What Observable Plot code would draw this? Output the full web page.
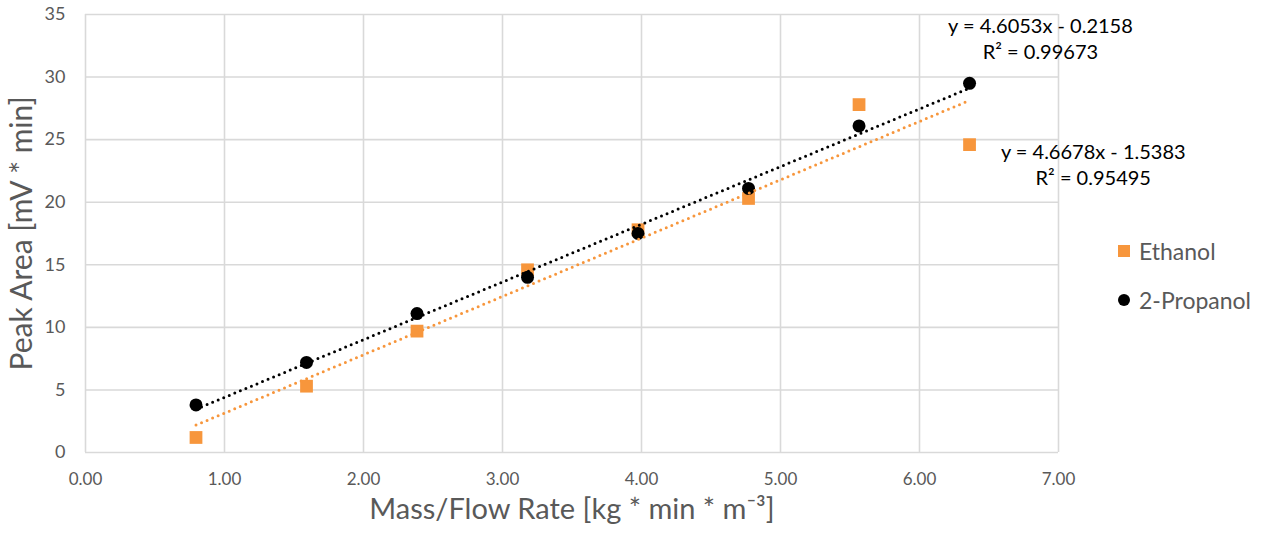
<!DOCTYPE html>
<html>
<head>
<meta charset="utf-8">
<script src="https://cdn.jsdelivr.net/npm/d3@7"></script>
<script src="https://cdn.jsdelivr.net/npm/@observablehq/plot@0.6"></script>
<style>
  html, body { margin: 0; padding: 0; background: #fff; }
  #wrap { position: relative; width: 1274px; height: 537px; font-family: Lato, "Open Sans", sans-serif; }
  .leg { position: absolute; left: 1116px; font-size: 23px; color: #595959; display: flex; align-items: center; }
  .leg svg { margin-right: 7px; }
</style>
</head>
<body>
<div id="wrap"></div>
<script>
// ---- data ----
const massFlow = [0.795, 1.59, 2.385, 3.18, 3.975, 4.77, 5.565, 6.36];
const ethanol = [1.2, 5.3, 9.7, 14.6, 17.8, 20.3, 27.8, 24.6];
const propanol = [3.8, 7.2, 11.1, 14.0, 17.5, 21.1, 26.1, 29.5];
const seriesNames = ["Ethanol", "2-Propanol"];
const seriesColors = ["#F7963C", "#000000"];
const xTicks = [0, 1, 2, 3, 4, 5, 6, 7];
const yTicks = [0, 5, 10, 15, 20, 25, 30, 35];
const eqLabels = ["y = 4.6053x - 0.2158\nR² = 0.99673", "y = 4.6678x - 1.5383\nR² = 0.95495"];
const eqX = [6.87, 7.25];
const eqY = [33.15, 23.1];

const ethData = massFlow.map((x, i) => ({x, y: ethanol[i]}));
const proData = massFlow.map((x, i) => ({x, y: propanol[i]}));
const eqData = eqLabels.map((t, i) => ({t, x: eqX[i], y: eqY[i]}));

const grid = "#d9d9d9";
const txt = "#595959";

const chart = Plot.plot({
  width: 1274,
  height: 537,
  marginLeft: 85,
  marginRight: 216,
  marginTop: 14,
  marginBottom: 85,
  style: { fontFamily: "Lato, 'Open Sans', sans-serif", background: "#fff" },
  x: { domain: [0, 7] },
  y: { domain: [0, 35] },
  marks: [
    Plot.gridX(xTicks, { stroke: grid, strokeOpacity: 1, strokeWidth: 1.6 }),
    Plot.gridY(yTicks, { stroke: grid, strokeOpacity: 1, strokeWidth: 1.6 }),
    Plot.axisX(xTicks, { tickSize: 0, tickPadding: 20, tickFormat: d3.format(".2f"), fontSize: 17, fill: txt, label: null }),
    Plot.axisY(yTicks, { tickSize: 0, tickPadding: 20, fontSize: 18, fill: txt, label: null }),
    Plot.text(["Mass/Flow Rate [kg * min * m⁻³]"], { frameAnchor: "bottom", dy: 66, fontSize: 29, fill: txt }),
    Plot.text(["Peak Area [mV * min]"], { frameAnchor: "left", dx: -63, rotate: -90, textAnchor: "middle", fontSize: 30, fill: txt }),
    Plot.dot(ethData, { x: "x", y: "y", symbol: "square", r: 7.2, fill: seriesColors[0] }),
    Plot.dot(proData, { x: "x", y: "y", symbol: "circle", r: 6.5, fill: seriesColors[1] }),
    Plot.linearRegressionY(ethData, { x: "x", y: "y", ci: 0, stroke: seriesColors[0], strokeWidth: 3, strokeDasharray: "0,6", strokeLinecap: "round" }),
    Plot.linearRegressionY(proData, { x: "x", y: "y", ci: 0, stroke: seriesColors[1], strokeWidth: 3, strokeDasharray: "0,6", strokeLinecap: "round" }),
    Plot.text(eqData, { x: "x", y: "y", text: "t", fontSize: 20, fill: "#000", lineHeight: 1.3, textAnchor: "middle" })
  ]
});

const wrap = document.getElementById("wrap");
wrap.appendChild(chart);

// legend
const legTops = [237, 286];
seriesNames.forEach((name, i) => {
  const d = document.createElement("div");
  d.className = "leg";
  d.style.top = legTops[i] + "px";
  const sym = i === 0
    ? `<svg width="16" height="28"><rect x="2" y="8" width="12" height="12" fill="${seriesColors[i]}"/></svg>`
    : `<svg width="16" height="28"><circle cx="8" cy="14" r="6" fill="${seriesColors[i]}"/></svg>`;
  d.innerHTML = sym + `<span>${name}</span>`;
  wrap.appendChild(d);
});
</script>
</body>
</html>
